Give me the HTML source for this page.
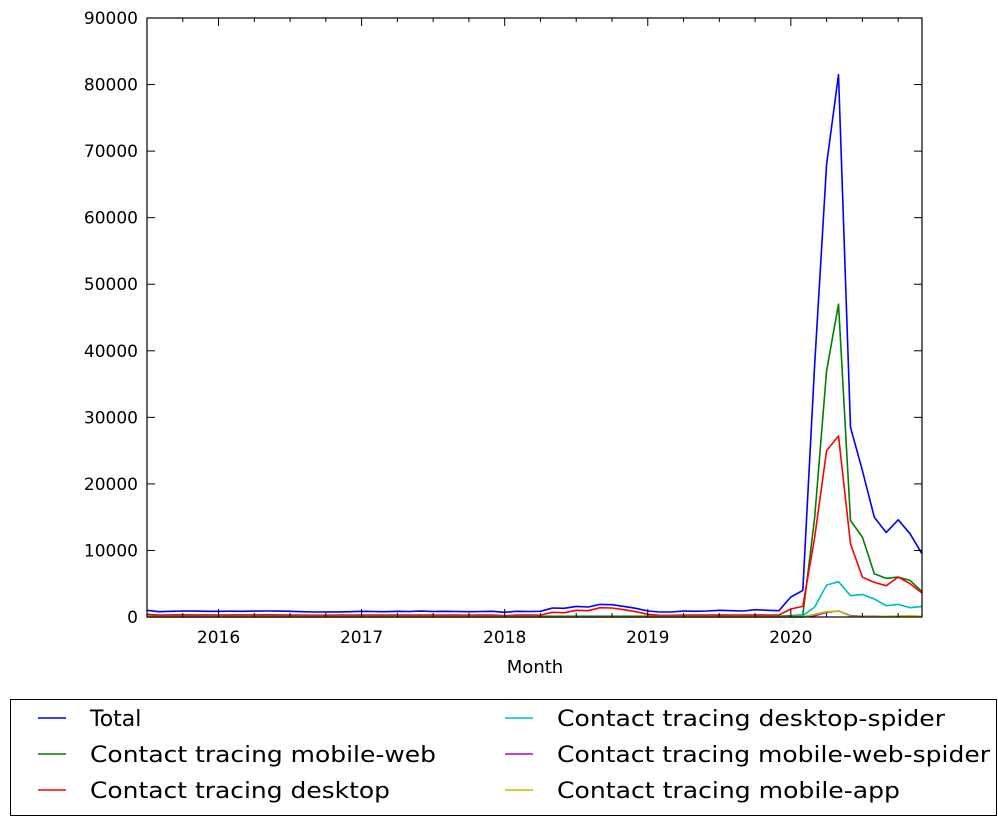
<!DOCTYPE html>
<html><head><meta charset="utf-8"><style>
body{margin:0;background:#fff;}
svg text{font-family:"DejaVu Sans","Liberation Sans",sans-serif;fill:#000;}
</style></head><body>
<svg id="s" width="998" height="823" xmlns="http://www.w3.org/2000/svg">
<rect x="0" y="0" width="998" height="823" fill="#fff"/>
<g id="lines" fill="none" stroke-width="1.6" stroke-linejoin="round"></g>
<rect x="147" y="18" width="775" height="599" fill="none" stroke="#000" stroke-width="1.2"/>
<g id="ticks" stroke="#000" stroke-width="1"></g>
<g id="labels" font-size="17"></g>
<text x="535" y="673" font-size="18" text-anchor="middle">Month</text>
<rect x="10.5" y="699.5" width="986" height="116" fill="#fff" stroke="#000" stroke-width="1"/>
<g font-size="22">
<line x1="38" y1="718" x2="66" y2="718" stroke="#0000ff" stroke-width="1.6"/>
<text x="90" y="726">Total</text>
<line x1="38" y1="754" x2="66" y2="754" stroke="#008000" stroke-width="1.6"/>
<text x="90" y="762" textLength="346" lengthAdjust="spacingAndGlyphs">Contact tracing mobile-web</text>
<line x1="38" y1="790" x2="66" y2="790" stroke="#ff0000" stroke-width="1.6"/>
<text x="90" y="798" textLength="300" lengthAdjust="spacingAndGlyphs">Contact tracing desktop</text>
<line x1="505" y1="718" x2="533" y2="718" stroke="#00bfbf" stroke-width="1.6"/>
<text x="557" y="726" textLength="388" lengthAdjust="spacingAndGlyphs">Contact tracing desktop-spider</text>
<line x1="505" y1="754" x2="533" y2="754" stroke="#bf00bf" stroke-width="1.6"/>
<text x="557" y="762" textLength="433" lengthAdjust="spacingAndGlyphs">Contact tracing mobile-web-spider</text>
<line x1="505" y1="790" x2="533" y2="790" stroke="#bfbf00" stroke-width="1.6"/>
<text x="557" y="798" textLength="343" lengthAdjust="spacingAndGlyphs">Contact tracing mobile-app</text>
</g>
</svg>
<script>
var NS="http://www.w3.org/2000/svg";
function X(i){return 147+i*775/65;}
function Y(v){return 617-v*599/90000;}
var tot=[1000,800,850,900,880,860,850,870,860,880,900,880,850,800,750,760,770,800,850,830,800,850,830,880,820,850,830,800,820,850,
700,850,820,850,1350,1300,1600,1500,1900,1850,1600,1300,900,750,750,900,850,900,1000,950,900,1100,1000,950,
3000,4000,38000,68000,81500,28500,22000,15000,12700,14600,12500,9500];
var red=[400,300,320,330,320,310,300,320,310,320,330,320,300,280,270,270,280,290,300,290,280,300,290,300,280,290,280,270,280,290,
200,300,280,300,700,650,1000,950,1400,1350,1100,800,400,250,250,300,280,300,320,300,300,320,300,300,
1200,1600,12000,25000,27200,11000,6000,5200,4700,6000,5000,3600];
var grn=[],cy=[],mg=[],yl=[];
for(var i=0;i<54;i++){grn.push(120);cy.push(60);mg.push(10);yl.push(20);}
grn=grn.concat([200,300,15000,37000,47000,14500,12000,6500,5800,6000,5500,3800]);
cy=cy.concat([100,200,1500,4800,5300,3200,3400,2700,1700,1900,1400,1600]);
mg=mg.concat([10,20,200,700,900,200,100,100,80,80,80,80]);
yl=yl.concat([20,30,400,800,900,100,80,50,100,150,200,100]);
var series=[[tot,"#0000ff"],[grn,"#008000"],[red,"#ff0000"],[cy,"#00bfbf"],[mg,"#bf00bf"],[yl,"#bfbf00"]];
var g=document.getElementById("lines");
series.forEach(function(s){var p=document.createElementNS(NS,"polyline");
p.setAttribute("points",s[0].map(function(v,i){return X(i).toFixed(1)+","+Y(v).toFixed(1)}).join(" "));
p.setAttribute("stroke",s[1]);g.appendChild(p);});
var t=document.getElementById("ticks"),L=document.getElementById("labels");
function ln(a,b,c,d){var l=document.createElementNS(NS,"line");l.setAttribute("x1",a);l.setAttribute("y1",b);l.setAttribute("x2",c);l.setAttribute("y2",d);t.appendChild(l);}
function tx(x,y,s,a){var e=document.createElementNS(NS,"text");e.setAttribute("x",x);e.setAttribute("y",y);e.setAttribute("text-anchor",a);e.textContent=s;L.appendChild(e);}
for(var v=0;v<=90000;v+=10000){var y=Y(v);ln(147,y,155,y);ln(922,y,914,y);tx(138,y+6,String(v),"end");}
for(var i=0;i<66;i++){var x=X(i);if((i+6)%12==0){ln(x,617,x,609);ln(x,18,x,26);tx(x,643,String(2016+(i-6)/12),"middle");}
else if((i+6)%3==0){ln(x,617,x,613);ln(x,18,x,22);}}
</script>
</body></html>
